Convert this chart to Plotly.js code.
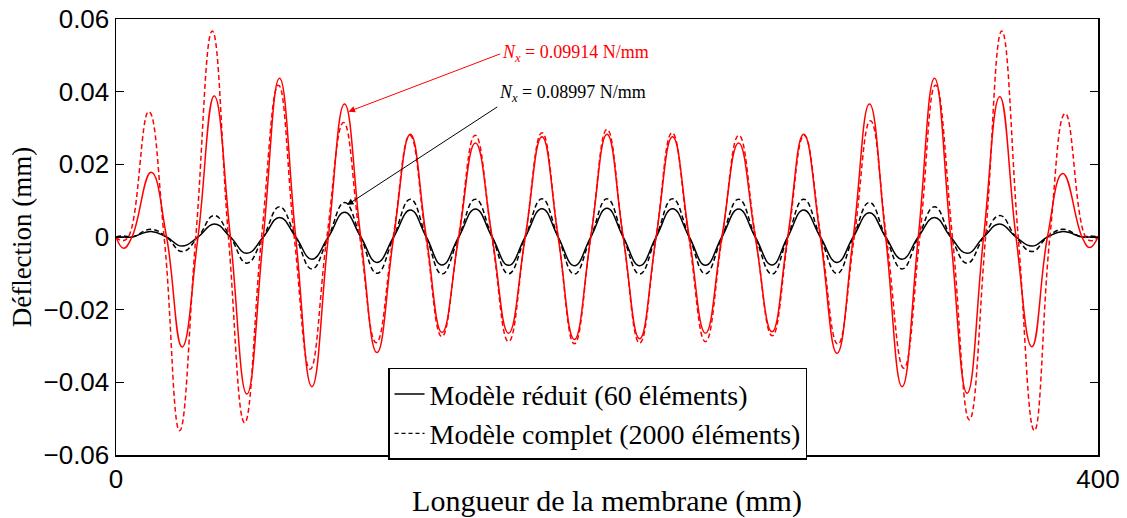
<!DOCTYPE html>
<html>
<head>
<meta charset="utf-8">
<script src="https://cdn.plot.ly/plotly-3.0.1.min.js"></script>
<style>
html,body{margin:0;padding:0;background:#fff;}
#chart{width:1127px;height:518px;}
</style>
</head>
<body>
<div id="chart"></div>
<script>
// x positions (mm) for the reduced-model curves (extrema and zero crossings)
const xReduced = [0, 3.1, 6.5, 14.3, 20.6, 26.9, 33.4, 40.0, 46.6, 53.3, 60.0, 66.6, 73.2, 79.8, 86.5, 93.1, 99.7, 106.3, 113.1, 119.9, 126.4, 132.8, 139.6, 146.4, 153.2, 159.9, 166.7, 173.5, 180.1, 186.7, 193.4, 200.0,
  206.6, 213.3, 220.0, 226.7, 233.5, 240.1, 246.8, 253.6, 260.4, 267.2, 273.6, 280.1, 286.9, 293.7, 300.3, 306.9, 313.5, 320.2, 326.8, 333.4, 340.0, 346.7, 353.4, 360.0, 366.6, 373.1, 379.4, 385.7, 393.5, 396.6, 400];

// x positions (mm) for the complete-model red curve
const xComplete = [0, 2.5, 5.0, 13.3, 19.6, 25.9, 32.5, 39.2, 45.8, 52.4, 59.3, 66.2, 72.6, 79.1, 85.9, 92.7, 99.3, 106.0, 112.9, 119.7, 126.2, 132.7, 139.5, 146.3, 153.1, 159.9, 166.7, 173.5, 180.1, 186.7, 193.4, 200.0,
  206.6, 213.3, 220.0, 226.5, 233.3, 240.1, 246.9, 253.7, 260.5, 267.3, 273.8, 280.3, 287.1, 294.0, 300.7, 307.3, 313.8, 320.9, 327.4, 333.8, 340.7, 347.6, 354.2, 360.8, 367.5, 374.1, 380.4, 386.7, 395.0, 397.5, 400];

// Nx = 0.09914 N/mm, reduced model (red solid)
const redReduced = [0, -0.0031, 0, 0.0178, 0, -0.0303, 0, 0.0388, 0, -0.0432, 0, 0.0437, 0, -0.0412, 0, 0.0366, 0, -0.0318, 0, 0.0283, 0, -0.0263, 0, 0.0259, 0, -0.0265, 0, 0.0276, 0, -0.0282, 0, 0.0283,
  0, -0.0280, 0, 0.0276, 0, -0.0265, 0, 0.0259, 0, -0.0261, 0, 0.0283, 0, -0.0320, 0, 0.0366, 0, -0.0412, 0, 0.0437, 0, -0.0430, 0, 0.0386, 0, -0.0302, 0, 0.0175, 0, -0.0029, 0];

// Nx = 0.09914 N/mm, complete model (red dashed)
const redComplete = [0, -0.0010, 0, 0.0345, 0, -0.0533, 0, 0.0567, 0, -0.0511, 0, 0.0418, 0, -0.0364, 0, 0.0315, 0, -0.0291, 0, 0.0280, 0, -0.0274, 0, 0.0280, 0, -0.0288, 0, 0.0287, 0, -0.0294, 0, 0.0296,
  0, -0.0292, 0, 0.0287, 0, -0.0288, 0, 0.0280, 0, -0.0272, 0, 0.0280, 0, -0.0295, 0, 0.0320, 0, -0.0361, 0, 0.0418, 0, -0.0503, 0, 0.0567, 0, -0.0533, 0, 0.0340, 0, -0.0010, 0];

// Nx = 0.08997 N/mm, reduced model (black solid)
const blackReduced = [0, 0.0000, 0, 0.0015, 0, -0.0025, 0, 0.0036, 0, -0.0045, 0, 0.0054, 0, -0.0061, 0, 0.0068, 0, -0.0070, 0, 0.0074, 0, -0.0077, 0, 0.0077, 0, -0.0078, 0, 0.0078, 0, -0.0079, 0, 0.0079,
  0, -0.0079, 0, 0.0078, 0, -0.0078, 0, 0.0077, 0, -0.0077, 0, 0.0074, 0, -0.0070, 0, 0.0067, 0, -0.0061, 0, 0.0054, 0, -0.0045, 0, 0.0036, 0, -0.0025, 0, 0.0015, 0, 0.0000, 0];

// Nx = 0.08997 N/mm, complete model (black dashed)
const blackComplete = [0, 0.0003, 0, 0.0021, 0, -0.0040, 0, 0.0059, 0, -0.0072, 0, 0.0083, 0, -0.0088, 0, 0.0095, 0, -0.0100, 0, 0.0104, 0, -0.0102, 0, 0.0104, 0, -0.0101, 0, 0.0105, 0, -0.0102, 0, 0.0105,
  0, -0.0102, 0, 0.0105, 0, -0.0101, 0, 0.0104, 0, -0.0102, 0, 0.0104, 0, -0.0100, 0, 0.0095, 0, -0.0088, 0, 0.0083, 0, -0.0072, 0, 0.0059, 0, -0.0040, 0, 0.0021, 0, 0.0003, 0];

const yTicks = [-0.06, -0.04, -0.02, 0, 0.02, 0.04, 0.06];
const xTicks = [0, 400];
const legendNames = ['Modèle réduit (60 éléments)', 'Modèle complet (2000 éléments)'];

const serif = 'Liberation Serif, Times New Roman, serif';
const sans = 'Liberation Sans, Arial, sans-serif';

function curve(x, y, color, dash) {
  return {x: x, y: y, type: 'scatter', mode: 'lines', showlegend: false, hoverinfo: 'skip',
    line: {color: color, width: 1.5, dash: dash, shape: 'spline', smoothing: 1.3}};
}

const traces = [
  curve(xReduced, blackComplete, '#000000', '5px,3px'),
  curve(xReduced, blackReduced, '#000000', 'solid'),
  curve(xComplete, redComplete, '#ff0000', '5px,3px'),
  curve(xReduced, redReduced, '#ff0000', 'solid'),
  {x: [null], y: [null], type: 'scatter', mode: 'lines', name: legendNames[0], line: {color: '#000', width: 1.3, dash: 'solid'}},
  {x: [null], y: [null], type: 'scatter', mode: 'lines', name: legendNames[1], line: {color: '#000', width: 1.3, dash: '4px,3px'}}
];

const layout = {
  width: 1127, height: 518,
  margin: {l: 116, r: 29, t: 19, b: 63},
  paper_bgcolor: '#fff', plot_bgcolor: '#fff',
  showlegend: true,
  legend: {x: 0.277, y: 0.2, xanchor: 'left', yanchor: 'top', bgcolor: '#fff', bordercolor: '#000', borderwidth: 1.5,
    font: {family: serif, size: 28, color: '#000'}, itemwidth: 30, tracegroupgap: 0},
  xaxis: {range: [0, 400], tickvals: xTicks, ticks: '', showgrid: false, zeroline: false,
    showline: true, linecolor: '#000', linewidth: 1.5, mirror: true,
    tickfont: {family: sans, size: 26, color: '#000'},
    title: {text: 'Longueur de la membrane (mm)', font: {family: serif, size: 30, color: '#000'}, standoff: 1}},
  yaxis: {range: [-0.06, 0.06], tickvals: yTicks, ticks: 'inside', ticklen: 8, tickcolor: '#000', tickwidth: 1,
    showgrid: false, zeroline: false, showline: true, linecolor: '#000', linewidth: 1.5, mirror: 'ticks',
    tickfont: {family: sans, size: 26, color: '#000'},
    title: {text: 'Déflection (mm)', font: {family: serif, size: 27, color: '#000'}, standoff: 4}},
  annotations: [
    {x: 94.7, y: 0.0345, ax: 156.5, ay: 0.0504, xref: 'x', yref: 'y', axref: 'x', ayref: 'y', showarrow: true,
      xanchor: 'left', yanchor: 'middle',
      arrowhead: 2, arrowsize: 1.3, arrowwidth: 1, arrowcolor: '#ff0000',
      text: '<i>N</i><sub><i>x</i></sub> = 0.09914 N/mm', font: {family: serif, size: 18, color: '#ff0000'}},
    {x: 94.1, y: 0.0088, ax: 155.3, ay: 0.0358, xref: 'x', yref: 'y', axref: 'x', ayref: 'y', showarrow: true,
      xanchor: 'left', yanchor: 'bottom',
      arrowhead: 2, arrowsize: 1.3, arrowwidth: 1, arrowcolor: '#000000',
      text: '<i>N</i><sub><i>x</i></sub> = 0.08997 N/mm', font: {family: serif, size: 18, color: '#000000'}}
  ]
};

Plotly.newPlot('chart', traces, layout, {staticPlot: true, displayModeBar: false});
</script>
</body>
</html>
